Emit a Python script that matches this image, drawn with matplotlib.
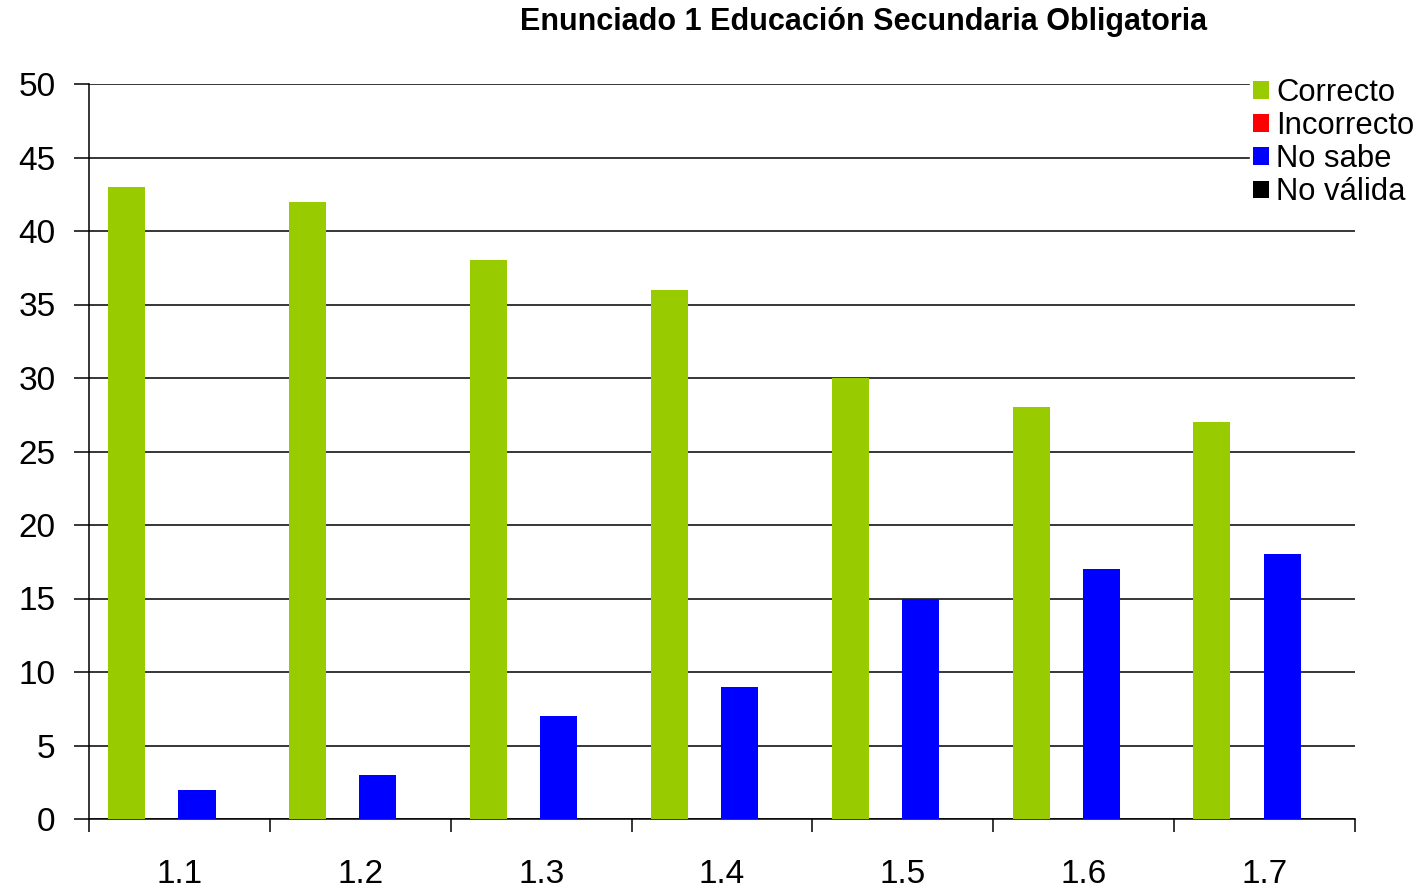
import matplotlib
matplotlib.use("Agg")
import matplotlib.pyplot as plt
import numpy as np
from matplotlib.patches import Patch

plt.rcParams['font.family'] = ['Liberation Sans', 'DejaVu Sans']

categories = ["1.1", "1.2", "1.3", "1.4", "1.5", "1.6", "1.7"]
series_names = ["Correcto", "Incorrecto", "No sabe", "No válida"]
correcto = [43, 42, 38, 36, 30, 28, 27]
incorrecto = [0, 0, 0, 0, 0, 0, 0]
no_sabe = [2, 3, 7, 9, 15, 17, 18]
no_valida = [0, 0, 0, 0, 0, 0, 0]
colors = ["#99CC00", "#FF0000", "#0000FF", "#000000"]
title = "Enunciado 1 Educación Secundaria Obligatoria"

W, H = 1423, 884
fig = plt.figure(figsize=(W / 100, H / 100), dpi=100)
ax = fig.add_axes([89 / W, 1 - 819 / H, (1355 - 89) / W, (819 - 84) / H])

x = np.arange(len(categories))
w = 0.205
data = [correcto, incorrecto, no_sabe, no_valida]
for k, (vals, col) in enumerate(zip(data, colors)):
    ax.bar(x + (k - 1.5) * 0.194, vals, width=w, color=col, zorder=3)

ax.set_xlim(-0.5, len(categories) - 0.5)
ax.set_ylim(0, 50)
ax.set_yticks(np.arange(0, 51, 5))
ax.yaxis.grid(True, color="black", linewidth=1.1, zorder=0)
ax.tick_params(axis="y", labelsize=24, length=11, width=1.1, pad=13)

ax.set_xticks(np.arange(-0.5, len(categories), 1.0))
ax.set_xticklabels([])
ax.tick_params(axis="x", which="major", length=9, width=1.1, direction="out")
ax.set_xticks(x, minor=True)
ax.set_xticklabels(categories, minor=True)
ax.tick_params(axis="x", which="minor", length=0, labelsize=24, pad=29)

for s in ["top", "right"]:
    ax.spines[s].set_visible(False)
ax.spines["left"].set_linewidth(1.1)
ax.spines["bottom"].set_linewidth(1.1)

handles = [Patch(facecolor=c, edgecolor="none") for c in colors]
leg = fig.legend(handles, series_names, loc="upper left",
                 bbox_to_anchor=(1250 / W, 1 - 75 / H), frameon=True,
                 fontsize=22.3, handlelength=0.5, handleheight=0.5,
                 handletextpad=0.25, labelspacing=0.1, borderpad=0.1,
                 borderaxespad=0)
leg.get_frame().set_edgecolor("white")
leg.get_frame().set_facecolor("white")
leg.get_frame().set_alpha(1)

fig.text(864 / W, 1 - 22 / H, title, ha="center", va="center",
         fontsize=22, fontweight="bold")

fig.savefig("out.png", dpi=100, facecolor="white")
